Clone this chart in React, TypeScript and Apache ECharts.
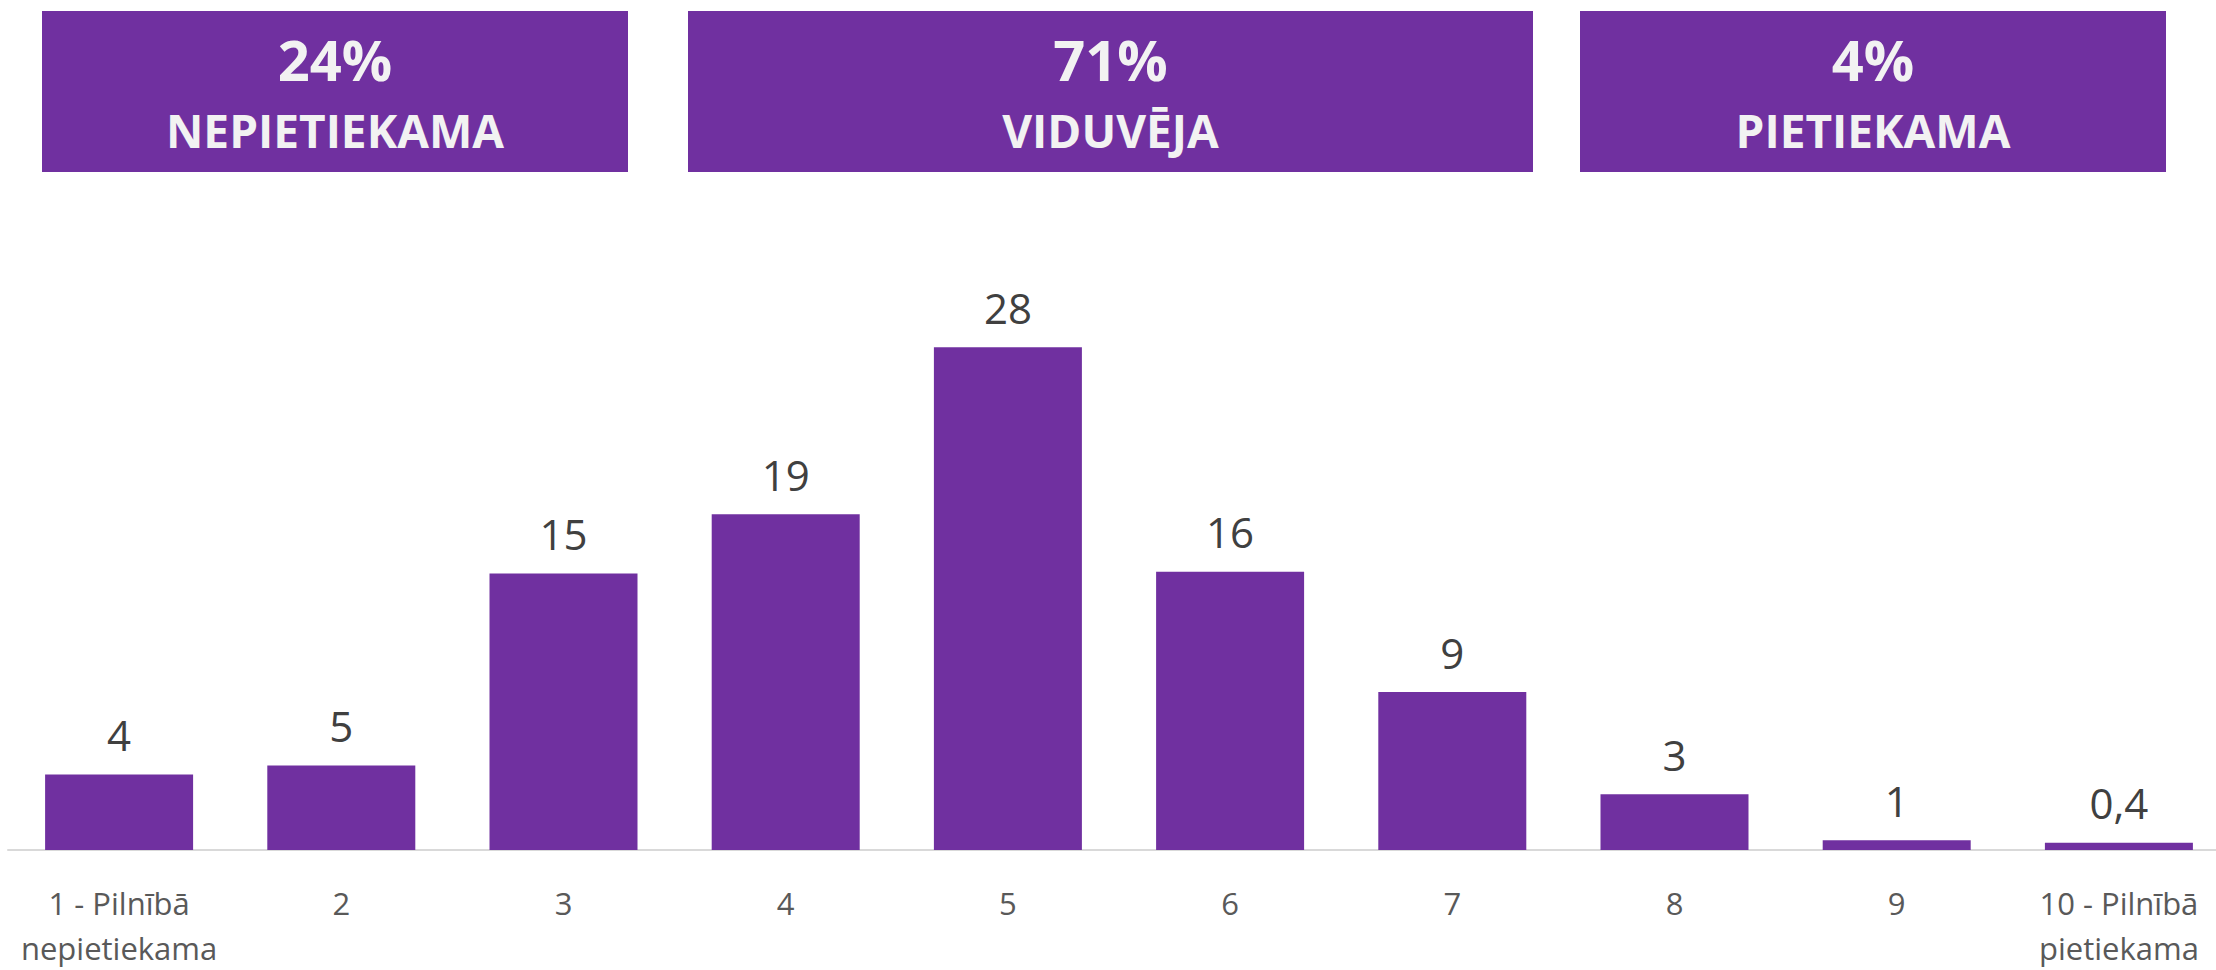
import React, { useEffect, useRef } from "react";
import * as echarts from "echarts";

const categories = [
  "1 - Pilnībā\nnepietiekama",
  "2",
  "3",
  "4",
  "5",
  "6",
  "7",
  "8",
  "9",
  "10 - Pilnībā\npietiekama",
];
const values = [4.2, 4.7, 15.4, 18.7, 28.0, 15.5, 8.8, 3.1, 0.55, 0.4];
const valueLabels = ["4", "5", "15", "19", "28", "16", "9", "3", "1", "0,4"];

const groupPercents = ["24%", "71%", "4%"];
const groupNames = ["NEPIETIEKAMA", "VIDUVĒJA", "PIETIEKAMA"];

const PURPLE = "#7030A0";
const FONT = "'Open Sans', 'Noto Sans', sans-serif";

// header box layout (pixels)
const boxLeft = [42, 688, 1580];
const boxRight = [628, 1533, 2166];
const BOX_TOP = 11;
const BOX_H = 161;

const CHART_W = 2240;

export default function App() {
  const ref = useRef<HTMLDivElement>(null);

  useEffect(() => {
    document.body.style.margin = "0";
    if (!ref.current) return;
    const chart = echarts.init(ref.current, undefined, { renderer: "svg" });

    const graphics: any[] = [];
    groupPercents.forEach((p, i) => {
      const cx = (boxLeft[i] + boxRight[i]) / 2;
      graphics.push({
        type: "rect",
        shape: { x: boxLeft[i], y: BOX_TOP, width: boxRight[i] - boxLeft[i], height: BOX_H },
        style: { fill: PURPLE },
        silent: true,
      });
      graphics.push({
        type: "text",
        x: cx,
        y: 59,
        style: {
          text: p,
          fill: "#F2F2F2",
          font: `bold 56px ${FONT}`,
          align: "center",
          verticalAlign: "middle",
        },
        silent: true,
      });
      graphics.push({
        type: "text",
        x: cx,
        y: 130,
        style: {
          text: groupNames[i],
          fill: "#F2F2F2",
          font: `bold 46px ${FONT}`,
          align: "center",
          verticalAlign: "middle",
        },
        silent: true,
      });
    });

    const unit = 18.21;
    const yMax = 35;
    const axisY = 859;

    chart.setOption({
      animation: false,
      backgroundColor: "#FFFFFF",
      grid: {
        left: 8,
        width: 2222,
        top: axisY - yMax * unit,
        bottom: 970 - axisY,
        containLabel: false,
      },
      xAxis: {
        type: "category",
        data: categories,
        axisLine: { show: true, lineStyle: { color: "#D9D9D9", width: 2 } },
        axisTick: { show: false },
        axisLabel: {
          color: "#595959",
          fontSize: 31,
          fontFamily: FONT,
          lineHeight: 45,
          margin: 30,
          interval: 0,
        },
        splitLine: { show: false },
      },
      yAxis: {
        type: "value",
        min: 0,
        max: yMax,
        show: false,
        splitLine: { show: false },
      },
      series: [
        {
          type: "bar",
          data: values,
          barWidth: 148,
          itemStyle: { color: PURPLE },
          label: {
            show: true,
            position: "top",
            distance: 19,
            color: "#404040",
            fontSize: 42,
            fontFamily: FONT,
            formatter: (p: any) => valueLabels[p.dataIndex],
          },
        },
      ],
      graphic: graphics,
    });

    return () => chart.dispose();
  }, []);

  return (
    <div style={{ width: 2216, height: 970, overflow: "hidden", position: "relative" }}>
      <div ref={ref} style={{ width: CHART_W, height: 970 }} />
    </div>
  );
}
